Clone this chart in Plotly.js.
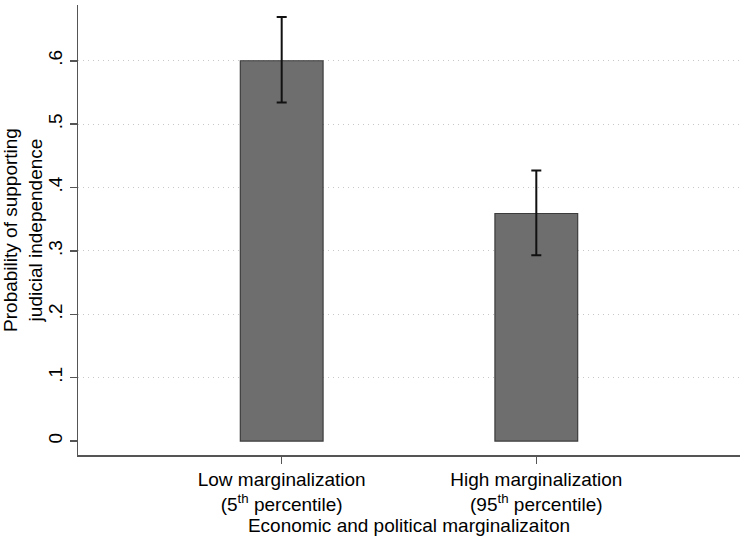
<!DOCTYPE html>
<html>
<head>
<meta charset="utf-8">
<script src="https://cdn.plot.ly/plotly-3.0.1.min.js"></script>
<style>html,body{margin:0;padding:0;background:#fff;}#chart{width:751px;height:536px;}</style>
</head>
<body>
<div id="chart"></div>
<script>
var categories = ["Low marginalization<br>(5<sup>th</sup> percentile)", "High marginalization<br>(95<sup>th</sup> percentile)"];
var probabilities = [0.600, 0.359];
var ciUpper = [0.669, 0.427];
var ciLower = [0.534, 0.293];
var yTickValues = [0, 0.1, 0.2, 0.3, 0.4, 0.5, 0.6];
var yTickLabels = ["0", ".1", ".2", ".3", ".4", ".5", ".6"];

var xPos = categories.map(function(c, i){ return i; });
var errPlus = probabilities.map(function(v, i){ return ciUpper[i] - v; });
var errMinus = probabilities.map(function(v, i){ return v - ciLower[i]; });

var trace = {
  type: 'bar',
  x: xPos,
  y: probabilities,
  width: 0.325,
  marker: {color: '#6e6e6e', line: {color: '#3c3c3c', width: 1.2}},
  error_y: {type: 'data', symmetric: false, array: errPlus, arrayminus: errMinus, color: '#111', thickness: 2, width: 5},
  hoverinfo: 'none'
};

var layout = {
  width: 751, height: 536,
  margin: {l: 78, r: 11, t: 5, b: 81},
  paper_bgcolor: '#fff', plot_bgcolor: '#fff',
  font: {family: 'Liberation Sans, Arial, sans-serif', size: 19, color: '#000'},
  showlegend: false,
  xaxis: {
    range: [-0.8, 1.8],
    tickmode: 'array', tickvals: xPos, ticktext: categories,
    ticks: 'outside', ticklen: 7, tickcolor: '#555', tickwidth: 1.5,
    showline: true, linecolor: '#555', linewidth: 1.5,
    showgrid: false, zeroline: false,
    tickfont: {size: 19},
    title: {text: 'Economic and political marginalizaiton', font: {size: 19}, standoff: 0}
  },
  yaxis: {
    range: [-0.022, 0.688],
    tickmode: 'array', tickvals: yTickValues, ticktext: yTickLabels,
    tickangle: -90,
    ticks: 'outside', ticklen: 7, tickcolor: '#555', tickwidth: 1.5,
    showline: true, linecolor: '#555', linewidth: 1.5,
    showgrid: true, gridcolor: '#c8c8c8', griddash: '1px,4px', gridwidth: 1,
    zeroline: true, zerolinecolor: 'rgba(0,0,0,0)',
    tickfont: {size: 19},
    title: {text: 'Probability of supporting<br>judicial independence', font: {size: 19}, standoff: 1}
  }
};

Plotly.newPlot('chart', [trace], layout, {displayModeBar: false, staticPlot: true});
</script>
</body>
</html>
